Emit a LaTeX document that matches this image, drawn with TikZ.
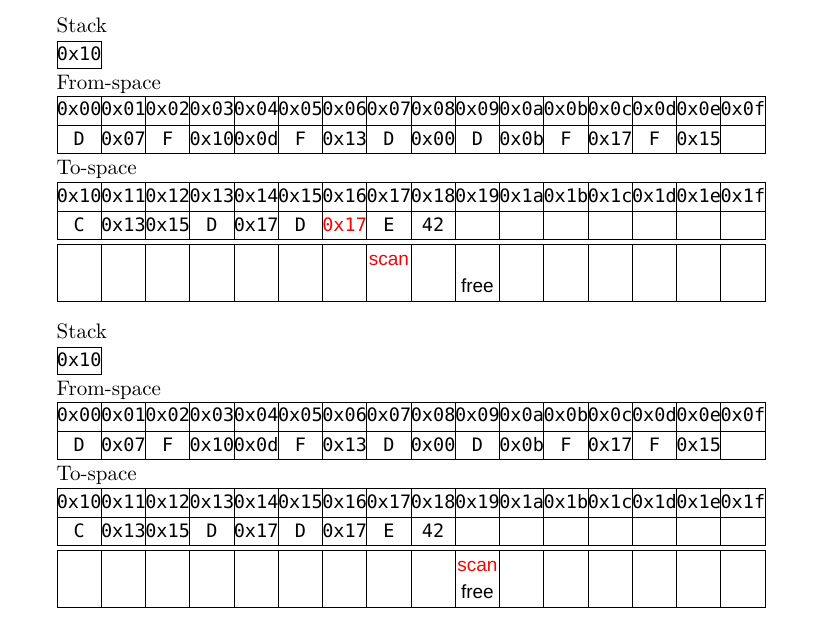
\documentclass[tikz,border=0pt]{standalone}
\usepackage{fontspec}
\setmainfont{lmroman10-regular}[Extension=.otf]
\setmonofont{DejaVu Sans Mono}
\setsansfont{Liberation Sans}
\begin{document}
\begin{tikzpicture}[x=1pt,y=-1pt,
  grid/.style={line width=0.9pt,draw=black},
  mono/.style={font=\fontsize{18.5}{22}\ttfamily,inner sep=0pt,anchor=base},
  lbl/.style={font=\fontsize{21}{24}\rmfamily,inner sep=0pt,anchor=base west},
  tag/.style={font=\fontsize{19}{22}\sffamily,inner sep=0pt,anchor=base}]
\useasboundingbox (0,0) rectangle (824,635);
\def\cw{44.25}
% #1 = y shift, #2 = colour of cell 0x16, #3 = scan column, #4 = free column, #5 = name prefix
\newcommand\gcblock[5]{%
\begin{scope}[yshift=#1]
  \node[lbl] (#5stack) at (56.5,32) {Stack};
  \node[draw,line width=0.9pt,minimum width=44.5pt,minimum height=26.6pt,inner sep=0pt] (#5sp) at (79.2,55) {};
  \node[mono] (#5spv) at (79.2,60) {0x10};
  \node[lbl] (#5from) at (56.5,89) {From-space};
  % from-space grid
  \draw[grid] (57,96.5) rectangle (765,153.3);
  \draw[grid] (57,125) -- (765,125);
  \foreach \i in {1,...,15} \draw[grid] (57+\i*\cw,96.5) -- (57+\i*\cw,153.3);
  \foreach \h [count=\i from 0] in {0,1,2,3,4,5,6,7,8,9,a,b,c,d,e,f}
    \node[mono] (#5fh\i) at (57+\i*\cw+22.125,115.5) {0x0\h};
  \foreach \v [count=\i from 0] in {D,0x07,F,0x10,0x0d,F,0x13,D,0x00,D,0x0b,F,0x17,F,0x15,{}}
    \node[mono] (#5fd\i) at (57+\i*\cw+22.125,145) {\v};
  \node[lbl] (#5to) at (56.5,174.5) {To-space};
  % to-space grid
  \draw[grid] (57,182.7) rectangle (765,239.3);
  \draw[grid] (57,211) -- (765,211);
  \foreach \i in {1,...,15} \draw[grid] (57+\i*\cw,182.7) -- (57+\i*\cw,239.3);
  \foreach \h [count=\i from 0] in {0,1,2,3,4,5,6,7,8,9,a,b,c,d,e,f}
    \node[mono] (#5th\i) at (57+\i*\cw+22.125,202) {0x1\h};
  \foreach \v [count=\i from 0] in {C,0x13,0x15,D,0x17,D,\textcolor{#2}{0x17},E,42}
    \node[mono] (#5td\i) at (57+\i*\cw+22.125,231) {\v};
  % pointer row
  \draw[grid] (57,244.5) rectangle (765,301);
  \foreach \i in {1,...,15} \draw[grid] (57+\i*\cw,244.5) -- (57+\i*\cw,301);
  \node[tag,text=red] (#5scan) at (57+#3*\cw+22.125,265) {scan};
  \node[tag] (#5free) at (57+#4*\cw+22.125,292.7) {free};
\end{scope}}
\gcblock{0pt}{red}{7}{9}{a}
\gcblock{-306pt}{black}{9}{9}{b}
\end{tikzpicture}
\end{document}
